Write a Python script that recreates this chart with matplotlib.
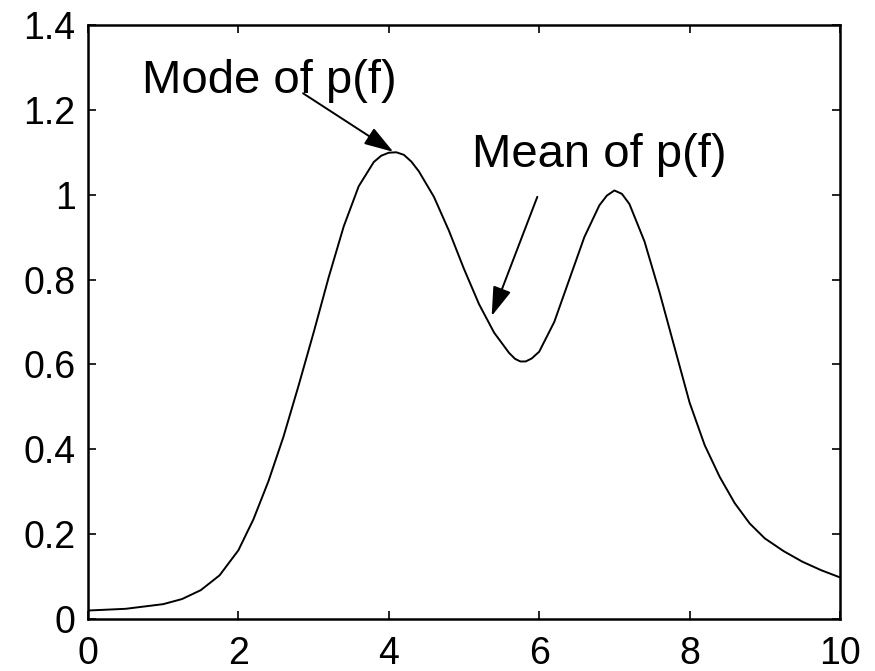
import matplotlib
matplotlib.use("Agg")
import matplotlib.pyplot as plt

# curve values
f = [0.0, 0.5, 1.0, 1.25, 1.5, 1.75, 2.0, 2.2, 2.4, 2.6, 2.8, 3.0, 3.2,
     3.4, 3.6, 3.8, 3.9, 4.0, 4.1, 4.2, 4.3, 4.4, 4.6, 4.8, 5.0, 5.2, 5.4,
     5.6, 5.68, 5.75, 5.82, 5.9, 6.0, 6.2, 6.4, 6.6, 6.8, 6.9, 7.0, 7.1,
     7.2, 7.4, 7.6, 7.8, 8.0, 8.2, 8.4, 8.6, 8.8, 9.0, 9.25, 9.5, 9.75,
     10.0]
p = [0.020, 0.024, 0.035, 0.047, 0.068, 0.103, 0.162, 0.235, 0.325, 0.430,
     0.550, 0.675, 0.805, 0.925, 1.020, 1.077, 1.092, 1.099, 1.100, 1.094,
     1.078, 1.055, 0.995, 0.915, 0.825, 0.742, 0.675, 0.627, 0.613, 0.607,
     0.607, 0.614, 0.630, 0.700, 0.800, 0.900, 0.975, 0.998, 1.010, 1.002,
     0.978, 0.890, 0.770, 0.640, 0.510, 0.410, 0.335, 0.273, 0.225, 0.190,
     0.160, 0.135, 0.115, 0.098]

xticks = [0, 2, 4, 6, 8, 10]
yticks = [0, 0.2, 0.4, 0.6, 0.8, 1, 1.2, 1.4]
ytick_labels = ["0", "0.2", "0.4", "0.6", "0.8", "1", "1.2", "1.4"]

mode_label = "Mode of p(f)"
mode_text_pos = (0.714, 1.239)
mode_tail = (2.86, 1.239)
mode_tip = (4.06, 1.101)

mean_label = "Mean of p(f)"
mean_text_pos = (5.106, 1.065)
mean_tail = (5.975, 0.995)
mean_tip = (5.368, 0.714)

plt.rcParams['font.family'] = ['Liberation Sans', 'DejaVu Sans']

fig = plt.figure(figsize=(8.75, 6.71), dpi=100)
ax = fig.add_axes([88/875, 1 - 619/671, (840-88)/875, (619-25)/671])

ax.plot(f, p, color='black', lw=1.4)

ax.set_xlim(0, 10)
ax.set_ylim(0, 1.4)
ax.set_xticks(xticks)
ax.set_yticks(yticks)
ax.set_yticklabels(ytick_labels)
ax.tick_params(direction='in', length=6, width=1.2, top=True, right=True,
               labelsize=27)
ax.tick_params(axis='x', pad=12)
ax.tick_params(axis='y', pad=9)
for s in ax.spines.values():
    s.set_linewidth(1.8)

ax.text(mode_text_pos[0], mode_text_pos[1], mode_label, fontsize=34,
        ha='left', va='baseline')
ax.text(mean_text_pos[0], mean_text_pos[1], mean_label, fontsize=34,
        ha='left', va='baseline')

arrow = dict(arrowstyle='-|>,head_length=1.0,head_width=0.32',
             mutation_scale=18, color='black', lw=1.4,
             shrinkA=0, shrinkB=0)
ax.annotate('', xy=mode_tip, xytext=mode_tail, arrowprops=arrow)
ax.annotate('', xy=mean_tip, xytext=mean_tail, arrowprops=arrow)

fig.savefig("out.png", dpi=100)
